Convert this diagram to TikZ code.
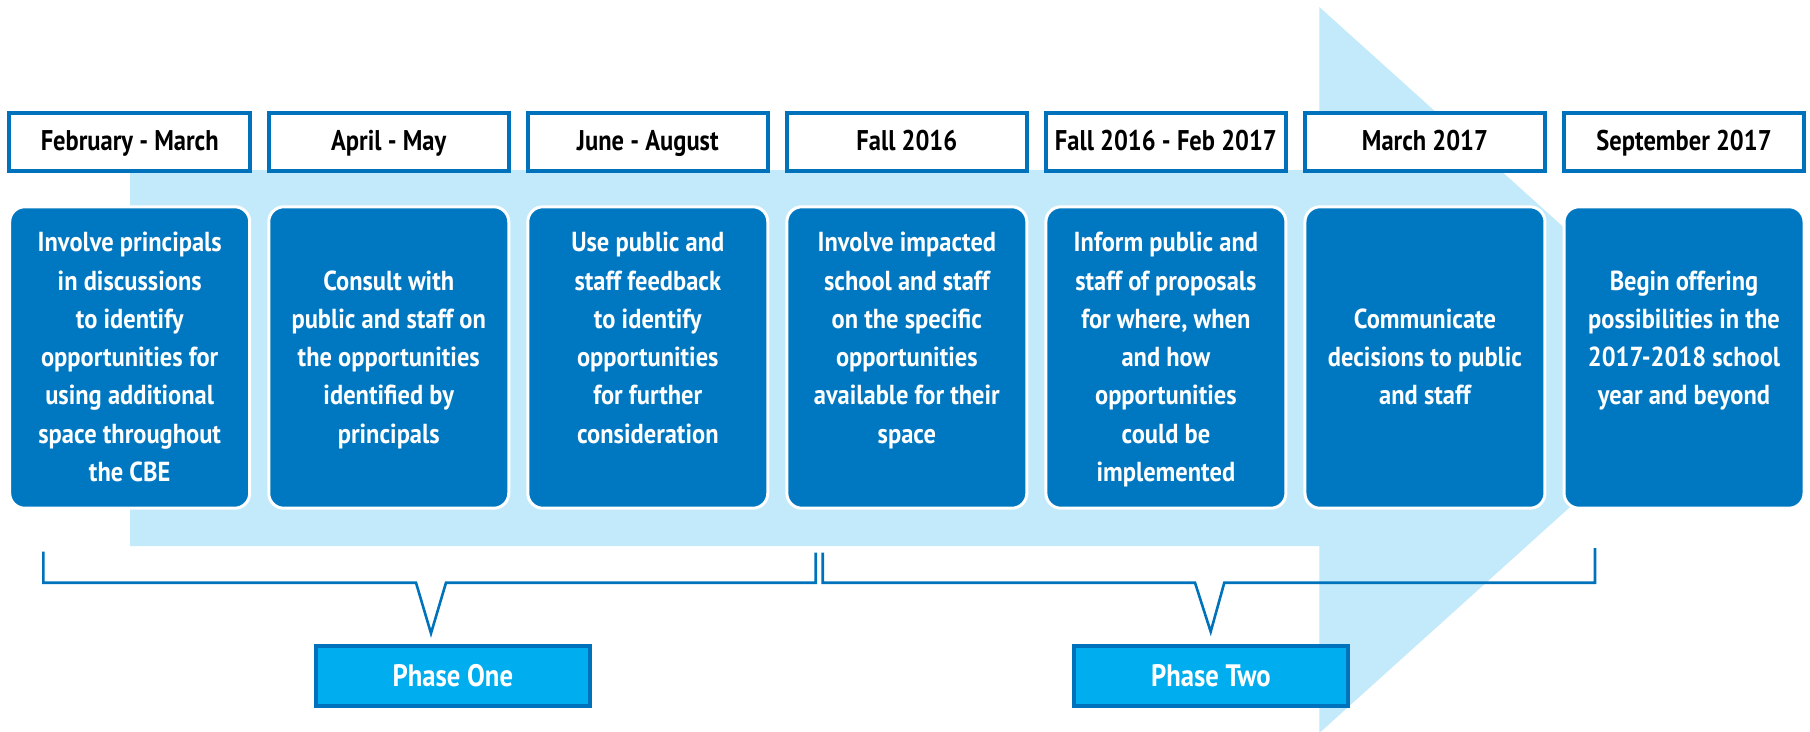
\documentclass[tikz,border=0pt]{standalone}
\usepackage{fontspec}
\newfontfamily\cond{PT Sans}[FakeStretch=0.86]
\newfontfamily\condb{PT Sans}[FakeStretch=0.89]
\definecolor{lightarrow}{RGB}{194,234,250}
\definecolor{boxblue}{RGB}{0,119,193}
\definecolor{edgeblue}{RGB}{0,114,188}
\definecolor{phasefill}{RGB}{0,174,239}
\newcommand\bodylines[1]{\vtop{\hsize=236pt\parindent=0pt\parskip=0pt\centering\condb\bfseries\fontsize{27.5}{38.3}\selectfont #1\par}}
\begin{document}
\begin{tikzpicture}[x=1pt,y=-1pt,
  datebox/.style={draw=edgeblue, line width=4pt, fill=white, minimum width=240.5pt, minimum height=58.3pt,
    inner sep=0pt, text height=21.6pt, text depth=6pt, text=black, font=\cond\bfseries\fontsize{28.5}{30}\selectfont},
  bodybox/.style={rectangle, rounded corners=15pt, fill=boxblue, draw=white, line width=3pt,
    minimum width=240pt, minimum height=301.4pt, inner sep=0pt},
  bodytext/.style={anchor=base, inner sep=0pt, text=white},
  phasebox/.style={draw=edgeblue, fill=phasefill, line width=4pt, minimum width=273.7pt, minimum height=59.7pt,
    inner sep=0pt, text=white, text height=21.6pt, text depth=0.6pt, font=\cond\bfseries\fontsize{31}{33}\selectfont},
  bracket/.style={draw=edgeblue, line width=2.6pt, line join=miter}]
\useasboundingbox (0,0) rectangle (1810,731);
\fill[white] (0,0) rectangle (1810,731);
% big light arrow
\begin{scope}
\clip (0,0) rectangle (1810,731);
\fill[lightarrow] (130,170) -- (1319.3,170) -- (1319.3,7) -- (1722,370) -- (1319.3,733)
  -- (1319.3,546) -- (130,546) -- cycle;
\end{scope}
% date boxes
\node[datebox] (d1) at (129.7,142.2) {February - March};
\node[datebox] (d2) at (388.75,142.2) {April - May};
\node[datebox] (d3) at (647.8,142.2) {June - August};
\node[datebox] (d4) at (906.85,142.2) {Fall 2016};
\node[datebox] (d5) at (1165.9,142.2) {Fall 2016 - Feb 2017};
\node[datebox] (d6) at (1424.95,142.2) {March 2017};
\node[datebox] (d7) at (1684.0,142.2) {September 2017};
% body boxes
\node[bodybox] (b1) at (129.7,357.5) {};
\node[bodybox] (b2) at (388.75,357.5) {};
\node[bodybox] (b3) at (647.8,357.5) {};
\node[bodybox] (b4) at (906.85,357.5) {};
\node[bodybox] (b5) at (1165.9,357.5) {};
\node[bodybox] (b6) at (1424.95,357.5) {};
\node[bodybox] (b7) at (1684.0,357.5) {};
% body texts
\node[bodytext] (t1) at (129.7,251.7) {\bodylines{Involve principals\\in discussions\\to identify\\opportunities for\\using additional\\space throughout\\the CBE}};
\node[bodytext] (t2) at (388.75,290) {\bodylines{Consult with\\public and staff on\\the opportunities\\identified by\\principals}};
\node[bodytext] (t3) at (647.8,251.7) {\bodylines{Use public and\\staff feedback\\to identify\\opportunities\\for further\\consideration}};
\node[bodytext] (t4) at (906.85,251.7) {\bodylines{Involve impacted\\school and staff\\on the specific\\opportunities\\available for their\\space}};
\node[bodytext] (t5) at (1165.9,251.7) {\bodylines{Inform public and\\staff of proposals\\for where, when\\and how\\opportunities\\could be\\implemented}};
\node[bodytext] (t6) at (1424.95,328.3) {\bodylines{Communicate\\decisions to public\\and staff}};
\node[bodytext] (t7) at (1684.0,290) {\bodylines{Begin offering\\possibilities in the\\2017-2018 school\\year and beyond}};
% phase boxes
\node[phasebox] (p1) at (452.85,675.85) {Phase One};
\node[phasebox] (p2) at (1210.85,675.85) {Phase Two};
% bracket tips
\coordinate (v1) at (431,633.3);
\coordinate (v2) at (1210.7,631.7);
\draw[bracket] (43.3,551.7) -- (43.3,582.7) -- (416,582.7) -- (v1) -- (446,582.7) -- (815.7,582.7) -- (815.7,552.7);
\draw[bracket] (822.7,552.7) -- (822.7,582.7) -- (1195,582.7) -- (v2) -- (1224.3,582.7) -- (1595,582.7) -- (1595,548);
\end{tikzpicture}
\end{document}
